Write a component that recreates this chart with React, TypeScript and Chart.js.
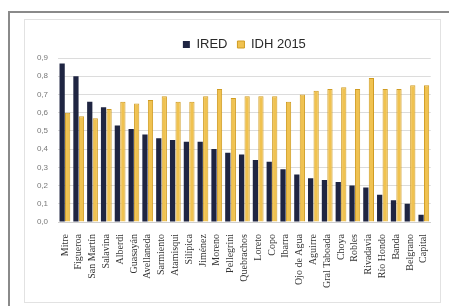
import React, { useEffect, useRef } from "react";
import { Chart, registerables } from "chart.js";

Chart.register(...registerables);

const categories = [
  "Mitre", "Figueroa", "San Martín", "Salavina", "Alberdi", "Guasayán",
  "Avellaneda", "Sarmiento", "Atamisqui", "Silípica", "Jiménez", "Moreno",
  "Pellegrini", "Quebrachos", "Loreto", "Copo", "Ibarra", "Ojo de Agua",
  "Aguirre", "Gral Taboada", "Choya", "Robles", "Rivadavia", "Río Hondo",
  "Banda", "Belgrano", "Capital",
];

const iredValues = [
  0.87, 0.8, 0.66, 0.63, 0.53, 0.51, 0.48, 0.46, 0.45, 0.44, 0.44, 0.4,
  0.38, 0.37, 0.34, 0.33, 0.29, 0.26, 0.24, 0.23, 0.22, 0.2, 0.19, 0.15,
  0.12, 0.1, 0.04,
];

const idhValues = [
  0.6, 0.58, 0.57, 0.62, 0.66, 0.65, 0.67, 0.69, 0.66, 0.66, 0.69, 0.73,
  0.68, 0.69, 0.69, 0.69, 0.66, 0.7, 0.72, 0.73, 0.74, 0.73, 0.79, 0.73,
  0.73, 0.75, 0.75,
];

const seriesNames = ["IRED", "IDH 2015"];

export default function App() {
  const ref = useRef<HTMLCanvasElement | null>(null);

  useEffect(() => {
    if (!ref.current) return;
    const chart = new Chart(ref.current, {
      type: "bar",
      data: {
        labels: categories,
        datasets: [
          {
            label: seriesNames[0],
            data: iredValues,
            backgroundColor: "#1f2542",
            borderColor: "#1f2542",
            borderWidth: 0,
            categoryPercentage: 0.8,
            barPercentage: 0.95,
          },
          {
            label: seriesNames[1],
            data: idhValues,
            backgroundColor: "#f0c250",
            borderColor: "#d09c22",
            borderWidth: 1,
            categoryPercentage: 0.8,
            barPercentage: 0.95,
          },
        ],
      },
      options: {
        animation: false,
        responsive: false,
        maintainAspectRatio: false,
        layout: { padding: { top: 9, right: 4, left: 0, bottom: 0 } },
        plugins: {
          legend: {
            position: "top",
            fullSize: false,
            maxHeight: 30,
            labels: {
              boxWidth: 7,
              boxHeight: 7,
              padding: 10,
              color: "#2a2a2a",
              font: { family: "Liberation Sans", size: 13 },
            },
          },
          tooltip: { enabled: false },
        },
        scales: {
          x: {
            grid: { display: false },
            border: { display: true, color: "#cfcfcf" },
            ticks: {
              autoSkip: false,
              minRotation: 90,
              maxRotation: 90,
              padding: 4,
              color: "#333",
              font: { family: "Liberation Serif", size: 10 },
            },
            afterFit: (s: any) => {
              s.height = 80;
            },
          },
          y: {
            min: 0,
            max: 0.9,
            ticks: {
              stepSize: 0.1,
              padding: 10,
              color: "#777",
              font: { family: "Liberation Sans", size: 8 },
              callback: (v: any) => Number(v).toFixed(1).replace(".", ","),
            },
            grid: { color: "#dcdcdc", drawTicks: false },
            border: { display: false },
            afterFit: (s: any) => {
              s.width = 34;
            },
          },
        },
      },
    });
    return () => chart.destroy();
  }, []);

  return (
    <div style={{ position: "fixed", left: 0, top: 0, width: 449, height: 306, background: "#fff", overflow: "hidden" }}>
      <div style={{ position: "absolute", left: 8, top: 11, width: 460, height: 320, border: "2px solid #8a8a8a", boxSizing: "border-box" }} />
      <div style={{ position: "absolute", left: 24, top: 19, width: 417, height: 284, border: "1px solid #e2e2e2", boxSizing: "border-box" }} />
      <canvas ref={ref} width={416} height={283} style={{ position: "absolute", left: 24, top: 19, width: 416, height: 283 }} />
    </div>
  );
}
